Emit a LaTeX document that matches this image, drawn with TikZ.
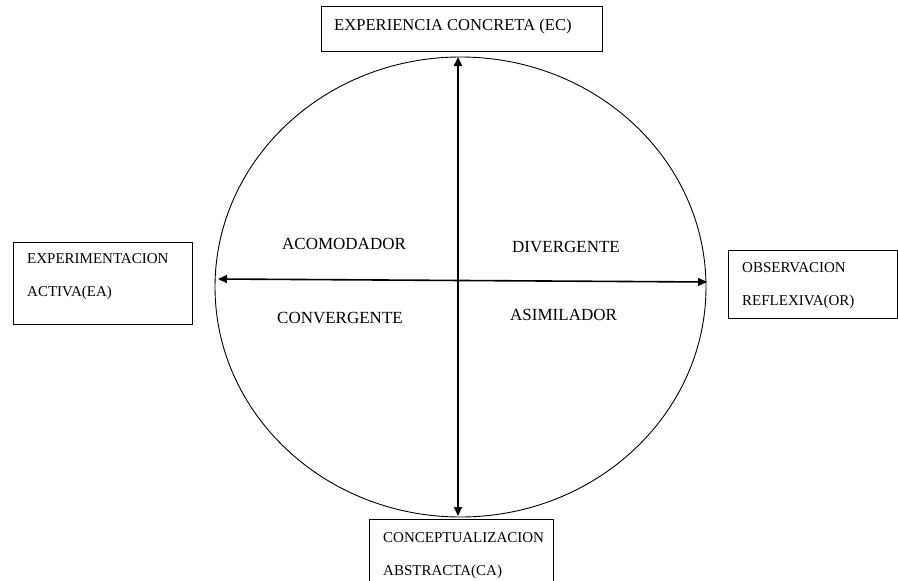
\documentclass[tikz,border=0pt]{standalone}
\usepackage{fontspec}
\setmainfont{Liberation Serif}
\usetikzlibrary{arrows.meta,shapes.geometric}
\begin{document}
\begin{tikzpicture}[x=1pt,y=-1pt,
  boxframe/.style={draw=black, line width=0.9pt, rectangle, inner sep=0pt},
  boxtext/.style={anchor=base west, inner sep=0pt, font=\fontsize{15}{18}\selectfont},
  toptext/.style={anchor=base west, inner sep=0pt, font=\fontsize{16.6}{19}\selectfont},
  quadtext/.style={anchor=base west, inner sep=0pt, font=\fontsize{17}{20}\selectfont},
  axis/.style={line width=1.6pt, {Triangle[length=9pt,width=8pt]}-{Triangle[length=9pt,width=8pt]}}
]
\useasboundingbox (0,0) rectangle (898,581);
\clip (0,0) rectangle (898,581);
% boxes
\node[boxframe, minimum width=281pt, minimum height=45pt] (ecbox) at (461.5,28.5) {};
\node[boxframe, minimum width=179pt, minimum height=82pt] (eabox) at (102.5,283) {};
\node[boxframe, minimum width=169pt, minimum height=68pt] (orbox) at (812.5,284) {};
\node[boxframe, minimum width=184pt, minimum height=80pt] (cabox) at (461,559) {};
% box texts
\node[toptext] (ectext) at (334,30) {EXPERIENCIA CONCRETA (EC)};
\node[boxtext] (eatext1) at (27,263) {EXPERIMENTACION};
\node[boxtext] (eatext2) at (27,296) {ACTIVA(EA)};
\node[boxtext] (ortext1) at (742,272) {OBSERVACION};
\node[boxtext] (ortext2) at (742,305) {REFLEXIVA(OR)};
\node[boxtext] (catext1) at (383,542) {CONCEPTUALIZACION};
\node[boxtext] (catext2) at (383,575) {ABSTRACTA(CA)};
% ellipse
\node[draw=black, line width=0.9pt, ellipse, minimum width=491pt, minimum height=460pt, inner sep=0pt] (circ) at (460.5,287) {};
% axis endpoints
\coordinate (atop) at (458,57);
\coordinate (abot) at (458,516);
\coordinate (aleft) at (218,279);
\coordinate (aright) at (707,282);
\draw[axis] (atop) -- (abot);
\draw[axis] (aleft) -- (aright);
% quadrant labels
\node[quadtext] (acom) at (282,249) {ACOMODADOR};
\node[quadtext] (div) at (512,252) {DIVERGENTE};
\node[quadtext] (conv) at (277,323) {CONVERGENTE};
\node[quadtext] (asim) at (510,320) {ASIMILADOR};
\end{tikzpicture}
\end{document}
